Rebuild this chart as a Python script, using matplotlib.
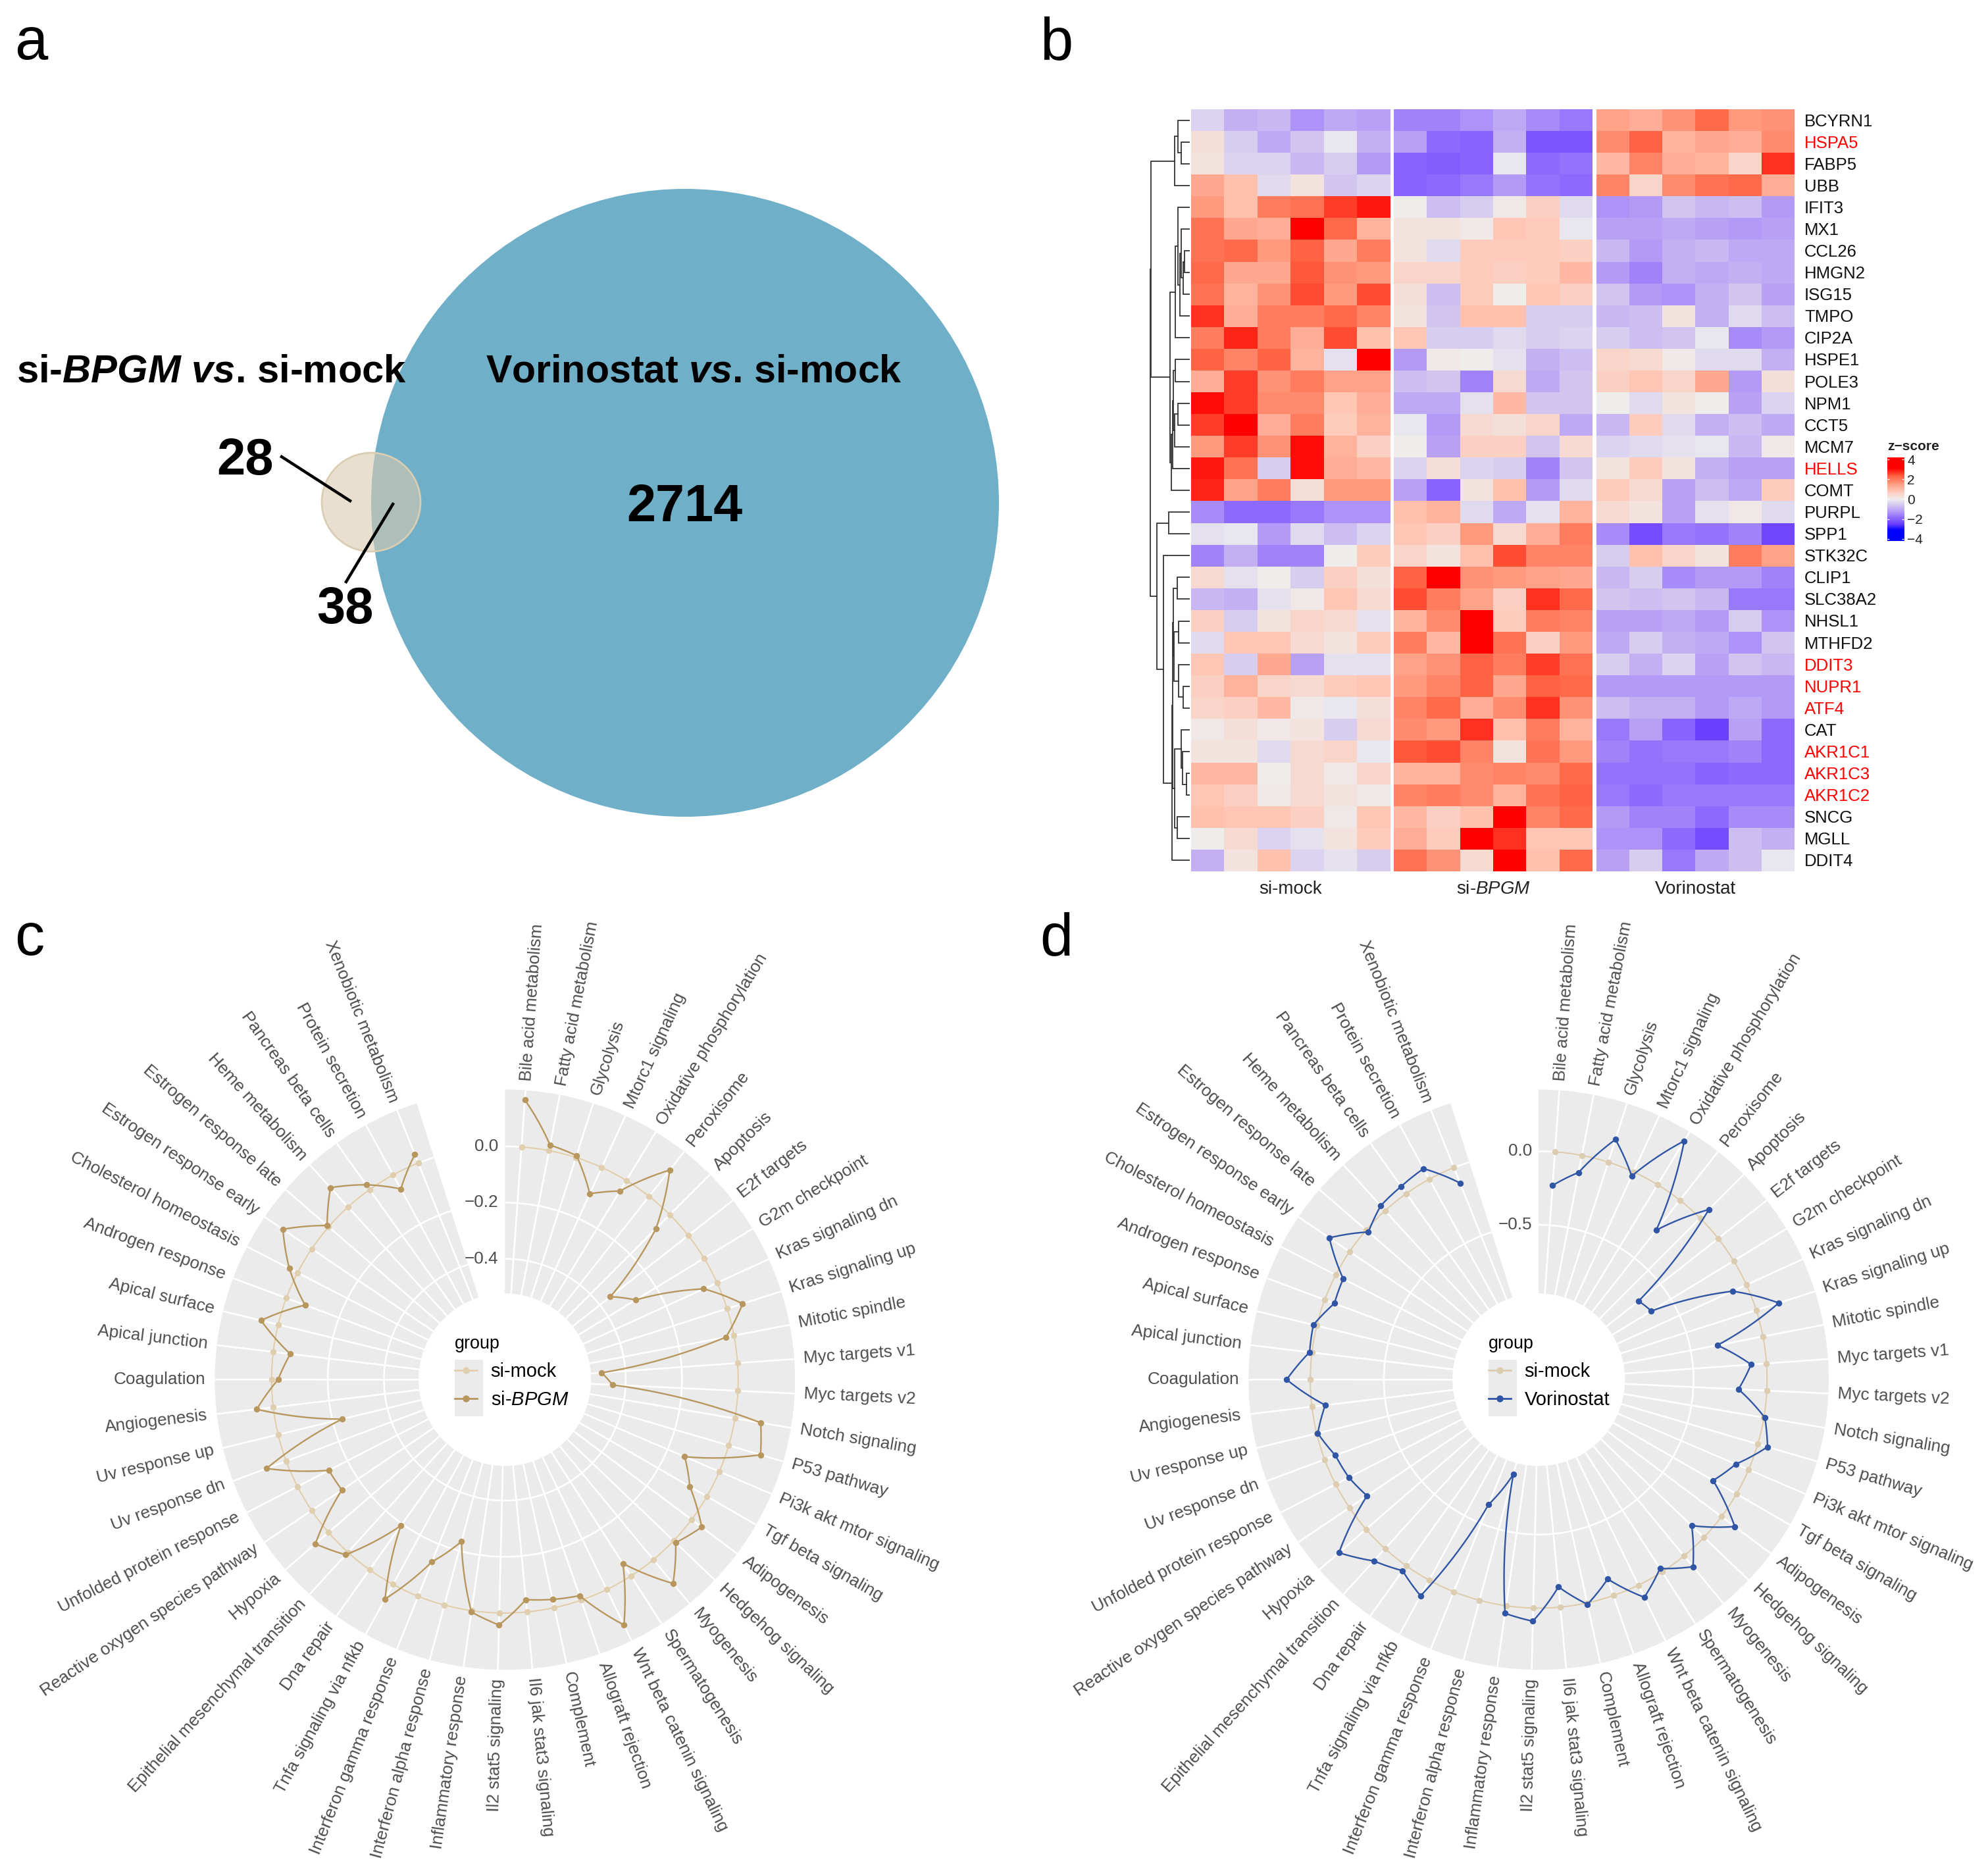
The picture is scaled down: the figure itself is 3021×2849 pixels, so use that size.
import numpy as np
import matplotlib
matplotlib.use('Agg')
import matplotlib.pyplot as plt
from matplotlib.colors import LinearSegmentedColormap, Normalize
from matplotlib.lines import Line2D
from matplotlib.patches import Circle, Rectangle

plt.rcParams['font.family'] = ['Liberation Sans', 'DejaVu Sans']
plt.rcParams['mathtext.fontset'] = 'custom'
plt.rcParams['mathtext.rm'] = 'Liberation Sans'
plt.rcParams['mathtext.it'] = 'Liberation Sans:italic'
plt.rcParams['mathtext.bf'] = 'Liberation Sans:bold'
plt.rcParams['mathtext.bfit'] = 'Liberation Sans:italic:bold'

W, H = 3021, 2849

# venn counts
only_bpgm = 28
shared = 38
only_vor = 2714

# heatmap
genes = ['BCYRN1', 'HSPA5', 'FABP5', 'UBB', 'IFIT3', 'MX1', 'CCL26', 'HMGN2', 'ISG15', 'TMPO',
         'CIP2A', 'HSPE1', 'POLE3', 'NPM1', 'CCT5', 'MCM7', 'HELLS', 'COMT', 'PURPL', 'SPP1',
         'STK32C', 'CLIP1', 'SLC38A2', 'NHSL1', 'MTHFD2', 'DDIT3', 'NUPR1', 'ATF4', 'CAT',
         'AKR1C1', 'AKR1C3', 'AKR1C2', 'SNCG', 'MGLL', 'DDIT4']
red_genes = ['HSPA5', 'HELLS', 'DDIT3', 'NUPR1', 'ATF4', 'AKR1C1', 'AKR1C3', 'AKR1C2']
group_names = ['si-mock', 'si-$\\mathit{BPGM}$', 'Vorinostat']

mock_z = [
    [-0.4, -0.9, -0.8, -1.3, -1.0, -1.1], [0.3, -0.5, -1.0, -0.6, -0.1, -0.9],
    [0.2, -0.4, -0.4, -0.8, -0.5, -1.2], [1.3, 0.9, -0.3, 0.2, -0.6, -0.4],
    [1.5, 0.9, 1.9, 2.0, 2.5, 2.8], [2.0, 1.3, 1.2, 3.0, 2.1, 1.1],
    [2.0, 2.1, 1.5, 2.2, 1.3, 1.9], [2.1, 1.3, 1.3, 2.3, 1.6, 1.5],
    [2.0, 1.1, 1.6, 2.4, 1.5, 2.4], [2.6, 1.2, 1.9, 1.9, 2.1, 1.8],
    [1.9, 2.7, 1.9, 1.2, 2.4, 0.9], [2.2, 1.8, 2.2, 1.1, -0.2, 3.0],
    [1.2, 2.5, 1.6, 1.9, 1.4, 1.4], [2.9, 2.5, 1.7, 1.7, 0.8, 1.2],
    [2.5, 3.0, 1.2, 1.9, 0.7, 1.1], [1.5, 2.5, 1.6, 2.9, 1.1, 0.6],
    [2.8, 2.0, -0.5, 2.9, 1.2, 1.0], [2.7, 1.4, 1.9, 0.3, 1.5, 1.5],
    [-1.4, -1.8, -1.8, -1.6, -1.3, -1.3], [-0.2, -0.1, -1.2, -0.3, -0.7, -0.4],
    [-1.5, -0.9, -1.5, -1.5, 0.0, 0.7], [0.4, -0.2, 0.0, -0.5, 0.6, 0.3],
    [-0.8, -0.9, -0.2, 0.1, 0.8, 0.4], [0.6, -0.5, 0.2, 0.5, 0.4, -0.2],
    [-0.3, 0.8, 0.8, 0.4, 0.2, 0.7], [0.8, -0.5, 1.3, -1.1, -0.2, -0.2],
    [0.6, 1.1, 0.5, 0.4, 0.7, 0.8], [0.5, 0.6, 1.0, 0.1, -0.1, 0.3],
    [0.1, 0.3, 0.1, 0.2, -0.5, 0.4], [0.2, 0.2, -0.3, 0.4, 0.5, -0.1],
    [1.0, 1.0, 0.0, 0.4, 0.1, 0.5], [0.8, 0.6, 0.1, 0.4, 0.2, 0.1],
    [0.9, 0.8, 0.8, 0.6, 0.1, 0.8], [0.0, 0.4, -0.4, -0.2, 0.2, 0.7],
    [-0.9, 0.2, 0.9, -0.4, -0.2, -0.5]]
bpgm_z = [
    [-1.5, -1.5, -1.3, -1.0, -1.4, -1.6], [-1.1, -1.8, -1.9, -0.9, -2.1, -2.1],
    [-1.9, -2.0, -1.9, -0.1, -1.8, -1.7], [-1.9, -1.8, -1.6, -1.2, -1.7, -1.8],
    [0.0, -0.7, -0.5, 0.1, 0.6, -0.3], [0.2, 0.2, 0.1, 0.8, 0.7, -0.1],
    [0.2, -0.3, 0.7, 0.7, 0.7, 0.6], [0.5, 0.5, 0.7, 0.6, 0.7, 1.0],
    [0.3, -0.7, 0.7, 0.0, 0.8, 0.6], [0.2, -0.6, 0.9, 0.9, -0.5, -0.5],
    [0.8, -0.5, -0.5, -0.3, -0.5, -0.4], [-1.2, 0.1, 0.0, -0.2, -0.9, -0.7],
    [-0.7, -0.6, -1.5, 0.4, -1.0, -0.6], [-1.0, -1.0, -0.2, 1.0, -0.6, -0.6],
    [-0.1, -1.2, 0.4, 0.3, 0.5, -1.0], [0.0, -1.1, 0.6, 0.6, -0.6, 0.4],
    [-0.4, 0.3, -0.4, -0.5, -1.5, -0.6], [-1.1, -1.9, 0.2, 0.9, -1.2, -0.3],
    [0.9, 1.1, -0.3, -1.0, -0.2, 1.1], [0.8, 0.6, 1.5, 0.4, 1.2, 1.9],
    [0.5, 0.2, 0.9, 2.4, 1.8, 1.8], [2.2, 3.0, 1.6, 1.5, 1.4, 1.3],
    [2.4, 1.9, 1.4, 0.6, 2.6, 2.1], [1.1, 1.7, 3.0, 0.7, 1.9, 1.8],
    [1.9, 1.0, 3.0, 2.0, 0.6, 1.5], [1.4, 1.6, 2.2, 1.9, 2.5, 2.0],
    [1.5, 1.8, 2.2, 1.3, 2.2, 2.1], [1.8, 2.1, 1.2, 1.7, 2.6, 1.6],
    [1.7, 1.5, 2.6, 0.9, 1.9, 1.1], [2.3, 2.4, 1.8, 0.2, 2.0, 1.5],
    [1.1, 1.1, 1.7, 1.8, 1.7, 2.1], [1.8, 1.9, 1.7, 1.1, 2.0, 2.2],
    [1.0, 0.6, 0.9, 3.0, 1.8, 2.1], [1.2, 0.7, 3.0, 2.6, 0.8, 0.8],
    [2.0, 1.6, 0.4, 3.0, 0.9, 2.1]]
vor_z = [
    [1.4, 1.2, 1.6, 2.1, 1.5, 1.6], [1.7, 2.2, 1.1, 1.3, 1.2, 1.7],
    [1.0, 1.8, 1.2, 1.1, 0.5, 2.6], [1.8, 0.5, 1.7, 2.0, 2.1, 1.2],
    [-1.3, -1.2, -0.6, -0.8, -0.7, -1.2], [-1.1, -1.1, -1.0, -1.1, -1.2, -1.1],
    [-0.8, -1.2, -0.9, -0.8, -1.0, -1.0], [-1.2, -1.5, -0.9, -1.0, -0.9, -1.0],
    [-0.6, -1.2, -1.3, -0.9, -0.6, -1.1], [-0.8, -0.7, 0.2, -0.9, -0.3, -0.7],
    [-0.5, -0.7, -0.6, -0.1, -1.4, -1.2], [0.5, 0.4, 0.1, -0.3, -0.3, -0.9],
    [0.6, 0.8, 0.5, 1.3, -1.2, 0.3], [0.0, -0.3, 0.2, 0.0, -1.1, -0.4],
    [-0.8, 0.7, -0.3, -0.9, -0.7, -1.0], [-0.4, -0.3, -0.2, -0.1, -0.8, 0.1],
    [0.2, 0.7, 0.2, -0.9, -1.1, -1.1], [0.7, 0.4, -1.1, -0.7, -1.0, 0.7],
    [0.4, 0.2, -1.1, -0.2, 0.1, -0.3], [-1.4, -2.2, -1.6, -1.7, -1.5, -2.3],
    [-0.5, 0.9, 0.5, 0.2, 1.9, 1.4], [-0.8, -0.5, -1.4, -1.2, -1.2, -1.5],
    [-0.6, -0.7, -0.6, -0.8, -1.6, -1.6], [-1.1, -1.1, -1.0, -1.2, -0.5, -1.3],
    [-1.0, -0.5, -0.9, -1.0, -1.3, -0.6], [-0.5, -0.9, -0.4, -1.1, -0.6, -0.8],
    [-1.2, -1.2, -1.2, -1.2, -1.2, -1.2], [-0.7, -0.9, -0.9, -1.2, -1.0, -1.2],
    [-1.6, -1.1, -1.9, -2.4, -1.1, -1.8], [-1.5, -1.7, -1.6, -1.6, -1.5, -1.8],
    [-1.7, -1.7, -1.7, -1.9, -1.8, -1.8], [-1.6, -1.8, -1.6, -1.6, -1.6, -1.6],
    [-1.2, -1.5, -1.5, -1.8, -1.4, -1.4], [-1.3, -1.3, -1.8, -2.2, -0.7, -0.9],
    [-1.1, -0.5, -1.6, -1.0, -0.7, -0.1]]

# row tree: [merge height, left, right], leaves are row numbers
tree_top = [28, [21, 0, [15, 1, 2]], 3]
tree_a = [26, [21, 4, [18, [16, 5, [12, [10, 6, 7], 8]], 9]], 10]
tree_b = [34, [31, [30, [26, 11, 12], [27, [21, 13, 14], 15]], 16], 17]
tree_c = [31, [30, [23, 21, 22], [29, [20, 23, 24], [20, 25, [12, 26, 27]]]],
          [27, [16, 28, [13, 29, [6, 30, 31]]], [23, 32, 33]]]
row_tree = [72, [71, tree_top, [36, tree_a, tree_b]],
            [60, [38, 18, 19], [48, 20, [32, tree_c, 34]]]]

# radar
pathways = ['Bile acid metabolism', 'Fatty acid metabolism', 'Glycolysis', 'Mtorc1 signaling',
            'Oxidative phosphorylation', 'Peroxisome', 'Apoptosis', 'E2f targets', 'G2m checkpoint',
            'Kras signaling dn', 'Kras signaling up', 'Mitotic spindle', 'Myc targets v1',
            'Myc targets v2', 'Notch signaling', 'P53 pathway', 'Pi3k akt mtor signaling',
            'Tgf beta signaling', 'Adipogenesis', 'Hedgehog signaling', 'Myogenesis',
            'Spermatogenesis', 'Wnt beta catenin signaling', 'Allograft rejection', 'Complement',
            'Il6 jak stat3 signaling', 'Il2 stat5 signaling', 'Inflammatory response',
            'Interferon alpha response', 'Interferon gamma response', 'Tnfa signaling via nfkb',
            'Dna repair', 'Epithelial mesenchymal transition', 'Hypoxia',
            'Reactive oxygen species pathway', 'Unfolded protein response', 'Uv response dn',
            'Uv response up', 'Angiogenesis', 'Coagulation', 'Apical junction', 'Apical surface',
            'Androgen response', 'Cholesterol homeostasis', 'Estrogen response early',
            'Estrogen response late', 'Heme metabolism', 'Pancreas beta cells', 'Protein secretion',
            'Xenobiotic metabolism']
si_mock = [0.0] * 50
si_bpgm = [0.168, 0.02, 0.007, -0.103, -0.044, 0.119, -0.07, -0.353, -0.285, -0.052,
           0.058, -0.029, -0.485, -0.447, 0.093, 0.118, -0.134, -0.07, 0.045, 0.01,
           0.11, -0.053, 0.14, -0.017, -0.03, -0.044, 0.043, 0.005, -0.234, -0.132,
           0.059, -0.192, 0.012, 0.062, -0.13, -0.126, 0.075, -0.234, 0.059, -0.023,
           -0.061, 0.063, -0.071, 0.033, 0.124, 0.007, 0.093, 0.021, -0.057, 0.033]
vorinostat = [-0.229, -0.118, 0.162, -0.031, 0.349, -0.26, 0.083, -0.688, -0.656, -0.104,
              0.161, -0.316, -0.105, -0.193, 0.007, 0.069, -0.095, -0.183, 0.113, -0.115,
              0.096, -0.027, 0.092, -0.119, 0.01, -0.138, 0.09, 0.052, -0.887, -0.64,
              0.122, 0.042, 0.113, 0.244, -0.144, -0.101, -0.078, -0.007, -0.091, 0.161,
              0.016, 0.024, -0.07, -0.057, 0.167, -0.02, 0.045, 0.06, 0.082, -0.113]


def fig_box(x0, y0, x1, y1):
    # pixel box (y down) to figure fractions
    return [x0 / W, 1 - y1 / H, (x1 - x0) / W, (y1 - y0) / H]


fig = plt.figure(figsize=(W / 100, H / 100), dpi=100, facecolor='white')

# page level axes in pixels, for the venn and panel letters
page = fig.add_axes([0, 0, 1, 1])
page.set_xlim(0, W)
page.set_ylim(H, 0)
page.axis('off')

for letter, x, y in [('a', 22, 90), ('b', 1580, 90), ('c', 22, 1451), ('d', 1580, 1451)]:
    page.text(x, y, letter, fontsize=65, color='black')

# a: venn, area follows the counts
k = 477 / np.sqrt(only_vor + shared)
big_r = k * np.sqrt(only_vor + shared)
small_r = k * np.sqrt(only_bpgm + shared) * 1.015
big = Circle((1041, 764), big_r, fc='#70AFC8', ec='none', zorder=1)
page.add_patch(big)
small = Circle((564, 763), small_r, fc='#E8DFCF', ec='none', zorder=2)
page.add_patch(small)
overlap = Circle((1041, 764), big_r, fc='#AEBFBA', ec='none', zorder=3)
page.add_patch(overlap)
overlap.set_clip_path(Circle((564, 763), small_r, transform=page.transData))
ring = Circle((564, 763), small_r, fc='none', ec='#D9CDB4', lw=2, zorder=4)
page.add_patch(ring)

page.text(322, 565, 'si-$\\mathbfit{BPGM}$ $\\mathbfit{vs}$. si-mock', fontsize=43, fontweight='bold',
          ha='center', va='center', zorder=6)
page.text(1054, 565, 'Vorinostat $\\mathbfit{vs}$. si-mock', fontsize=42.6, fontweight='bold',
          ha='center', va='center', zorder=6)
page.text(372, 700, str(only_bpgm), fontsize=56, fontweight='bold', ha='center', va='center', zorder=6)
page.text(524, 927, str(shared), fontsize=56, fontweight='bold', ha='center', va='center', zorder=6)
page.text(1040, 771, str(only_vor), fontsize=57, fontweight='bold', ha='center', va='center', zorder=6)
page.plot([428, 532], [694, 761], color='black', lw=3.2, zorder=5)
page.plot([597, 526], [766, 884], color='black', lw=3.2, zorder=5)

# b: heatmap
z_cmap = LinearSegmentedColormap.from_list('z', [
    (0.0, '#0000FF'), (1.0 / 8, '#0000FF'), (1.6 / 8, '#6A40FF'), (2.2 / 8, '#8E6BFD'),
    (2.8 / 8, '#B49BF7'), (3.4 / 8, '#D2C6F0'), (4.0 / 8, '#EEEEEE'), (4.75 / 8, '#FFC9B9'),
    (5.5 / 8, '#FF9C80'), (6.25 / 8, '#FF6040'), (7.0 / 8, '#FF0000'), (1.0, '#FF0000')])
z_norm = Normalize(-4, 4)

blocks = [mock_z, bpgm_z, vor_z]
block_x = [(1810, 2112), (2118, 2420), (2426, 2727)]
hm_top, hm_bottom = 166, 1324
for block, (x0, x1), name in zip(blocks, block_x, group_names):
    ax = fig.add_axes(fig_box(x0, hm_top, x1, hm_bottom))
    ax.imshow(np.array(block), cmap=z_cmap, norm=z_norm, aspect='auto', interpolation='nearest')
    ax.axis('off')
    ax.text(0.5, -0.0235, name, transform=ax.transAxes, ha='center', va='center',
            fontsize=20, color='#222222')
    if block is vor_z:
        for i, gene in enumerate(genes):
            ax.text(1.05, i + 0.06, gene, transform=ax.get_yaxis_transform(), va='center', ha='left',
                    fontsize=18.5, color='#FF0000' if gene in red_genes else '#111111')

# row dendrogram
dend = fig.add_axes(fig_box(1747, hm_top, 1808, hm_bottom))
dend.set_xlim(73, 0)
dend.set_ylim(len(genes), 0)
dend.axis('off')


def draw_tree(node):
    if not isinstance(node, list):
        return node + 0.5, 0
    h, left, right = node
    y0, h0 = draw_tree(left)
    y1, h1 = draw_tree(right)
    dend.plot([h0, h, h, h1], [y0, y0, y1, y1], color='#333333', lw=1.3, solid_joinstyle='miter')
    return (y0 + y1) / 2, h


draw_tree(row_tree)

# z-score colour bar
cbar = fig.add_axes(fig_box(2868, 695, 2894, 822))
cbar.imshow(np.linspace(4, -4, 128).reshape(-1, 1), cmap=z_cmap, norm=z_norm, aspect='auto',
            extent=[0, 1, -4.2, 4.2])
for s in cbar.spines.values():
    s.set_visible(False)
cbar.set_xticks([])
cbar.yaxis.tick_right()
cbar.set_yticks([4, 2, 0, -2, -4], ['4', '2', '0', '\u22122', '\u22124'], fontsize=15, color='#222222')
cbar.tick_params(axis='y', length=0, pad=3)
cbar.hlines([4, 2, 0, -2, -4], 0, 1, color='white', lw=1, linestyles=(0, (2, 14)))
fig.text(2868 / W, 1 - 678 / H, 'z\u2212score', fontsize=15, fontweight='bold', va='center', color='#222222')


# c, d: radar panels
def radar(cx, label2, values, color2, r_zero, r_per_unit, yticks, yticklabels, mock_color):
    R_out, R_in = 444, 132
    vmax = (R_out - r_zero) / r_per_unit
    vmin = (R_in - r_zero) / r_per_unit
    origin = -r_zero / r_per_unit
    cy = 2098
    ax = fig.add_axes(fig_box(cx - R_out, cy - R_out, cx + R_out, cy + R_out), projection='polar')
    ax.set_theta_zero_location('N')
    ax.set_theta_direction(-1)
    ax.set_thetamin(0)
    ax.set_thetamax(342.3)
    ax.set_rlim(vmin, vmax)
    ax.set_rorigin(origin)
    ax.set_facecolor('#EBEBEB')
    # polar draw switches these spines back on, so only hide their colour
    for s in ax.spines.values():
        s.set_edgecolor('none')

    step = 342.3 / 50.2
    deg = 0.6 * step + step * np.arange(len(pathways))
    theta = np.deg2rad(deg)
    ax.set_xticks(theta)
    ax.set_xticklabels([])
    ax.set_yticks(yticks)
    ax.set_yticklabels(yticklabels)
    ax.set_rlabel_position(0)
    ax.tick_params(axis='x', length=4, width=1.6, color='#333333', direction='out')
    ax.tick_params(axis='y', length=4, width=1.6, color='#333333', pad=3, labelsize=18.8,
                   labelcolor='#4D4D4D')
    ax.grid(True, color='white', lw=1.9)

    for name, t, d in zip(pathways, theta, deg):
        r_text = vmax + 14 / r_per_unit
        if d < 180:
            ax.text(t, r_text, name, rotation=90 - d, rotation_mode='anchor', ha='left', va='center',
                    fontsize=18.8, color='#4D4D4D')
        else:
            ax.text(t, r_text, name, rotation=270 - d, rotation_mode='anchor', ha='right', va='center',
                    fontsize=18.8, color='#4D4D4D')

    handles = []
    for vals, col, lab, z in [(si_mock, mock_color, 'si-mock', 3), (values, color2, label2, 4)]:
        line, = ax.plot(theta, vals, color=col, lw=1.7, marker='o', ms=6.8, mew=0, zorder=z, clip_on=False)
        line.recache()
        line.get_path()._interpolation_steps = 24
        handles.append(Line2D([], [], color=col, lw=2, marker='o', ms=7.5, mew=0, label=lab))

    # legend, grey key squares sit under it
    key_x = cx - 76
    fig.add_artist(Rectangle((key_x / W, 1 - 2152 / H), 43 / W, 86 / H, transform=fig.transFigure,
                             fc='#EBEBEB', ec='none', zorder=1))
    leg = fig.legend(handles=handles, loc='upper left', bbox_to_anchor=(key_x / W, 1 - 2029 / H),
                     frameon=False, title='group', alignment='left', fontsize=21, title_fontsize=19.4,
                     borderpad=0, borderaxespad=0, handlelength=1.15, handletextpad=0.72, labelspacing=0.52)
    leg.set_zorder(5)


radar(767, 'si-$\\mathit{BPGM}$', si_bpgm, '#B8975E', 357, 430, [0.0, -0.2, -0.4],
      ['0.0', '\u22120.2', '\u22120.4'], '#E0CFAE')
radar(2338, 'Vorinostat', vorinostat, '#2F55A4', 349.5, 225, [0.0, -0.5],
      ['0.0', '\u22120.5'], '#DCCDB0')

fig.savefig('out.png', dpi=100, facecolor='white')
